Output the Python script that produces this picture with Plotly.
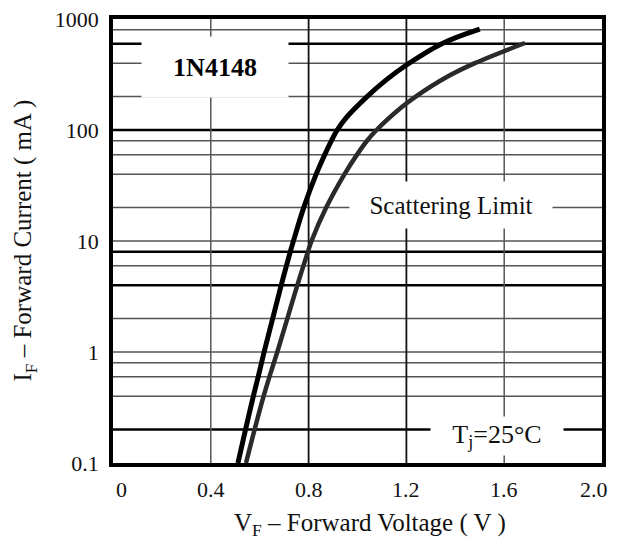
import plotly.graph_objects as go

# Forward characteristic curves (VF in volts, IF in mA)
v_lower = [0.511, 0.542, 0.574, 0.594, 0.618, 0.653, 0.688, 0.725, 0.738, 0.780, 0.831, 0.866, 0.893, 0.917, 0.955, 1.039, 1.115, 1.200, 1.345, 1.500]
i_lower = [0.1, 0.2, 0.4, 0.6, 1, 2, 4, 8, 10, 20, 40, 60, 80, 100, 130, 200, 280, 385, 600, 810]

v_upper = [0.544, 0.579, 0.616, 0.640, 0.672, 0.713, 0.754, 0.797, 0.812, 0.872, 0.947, 0.998, 1.039, 1.078, 1.180, 1.238, 1.365, 1.480, 1.685]
i_upper = [0.1, 0.2, 0.4, 0.6, 1, 2, 4, 8, 10, 20, 40, 60, 80, 100, 160, 200, 300, 400, 608]

# Axis ticks
x_ticks = [0, 0.4, 0.8, 1.2, 1.6, 2.0]
x_tick_text = ["0", "0.4", "0.8", "1.2", "1.6", "2.0"]
y_ticks = [0.1, 1, 10, 100, 1000]
y_tick_text = ["0.1", "1", "10", "100", "1000"]

# Grid lines
x_grid = [0.4, 0.8, 1.2, 1.6]
x_grid_strong = [0.8, 1.2]
y_grid = [0.2, 0.4, 0.6, 0.8, 1, 2, 4, 6, 8, 10, 20, 40, 60, 80, 100, 200, 400, 600, 800]
y_grid_strong = [0.2, 4, 8, 100, 600]

FONT = "Liberation Serif"

fig = go.Figure()

fig.add_trace(go.Scatter(x=v_upper, y=i_upper, mode="lines",
                         line=dict(color="#2a2a2a", width=4.5, shape="spline", smoothing=1.0),
                         showlegend=False, hoverinfo="skip"))
fig.add_trace(go.Scatter(x=v_lower, y=i_lower, mode="lines",
                         line=dict(color="#000000", width=5, shape="spline", smoothing=1.0),
                         showlegend=False, hoverinfo="skip"))

shapes = []
for v in y_grid:
    strong = v in y_grid_strong
    shapes.append(dict(type="line", xref="paper", x0=0, x1=1, yref="y", y0=v, y1=v,
                       line=dict(color="#000000" if strong else "#555555", width=2.5 if strong else 1.5),
                       layer="below"))
for v in x_grid:
    strong = v in x_grid_strong
    shapes.append(dict(type="line", yref="paper", y0=0, y1=1, xref="x", x0=v, x1=v,
                       line=dict(color="#111111" if strong else "#555555", width=1.8 if strong else 1.5),
                       layer="below"))

annotations = [
    dict(text="<b>1N4148</b>", xref="paper", yref="paper", x=0.2086, y=0.892,
         xanchor="center", yanchor="middle",
         showarrow=False, bgcolor="white", width=144, height=58,
         font=dict(family=FONT, size=26, color="black")),
    dict(text="Scattering Limit", xref="paper", yref="paper", x=0.692, y=0.582,
         xanchor="center", yanchor="middle",
         showarrow=False, bgcolor="white", width=200, height=44,
         font=dict(family=FONT, size=25, color="#111111")),
    dict(text="T<sub>j</sub>=25°C", xref="paper", yref="paper", x=0.786, y=0.061,
         xanchor="center", yanchor="middle",
         showarrow=False, bgcolor="white", width=130, height=36,
         font=dict(family=FONT, size=26, color="#111111")),
    dict(text="V<sub>F</sub> – Forward Voltage ( V )", xref="paper", yref="paper",
         x=0.5256, y=-0.1396, xanchor="center", yanchor="middle", showarrow=False,
         font=dict(family=FONT, size=25, color="#111111")),
    dict(text="I<sub>F</sub> – Forward Current ( mA )", xref="paper", yref="paper",
         x=-0.181, y=0.502, xanchor="center", yanchor="middle", textangle=-90, showarrow=False,
         font=dict(family=FONT, size=25, color="#111111")),
]

# X tick labels placed at the axis' data positions (edge labels nudged inward as in the original)
for k, (xv, lbl) in enumerate(zip(x_ticks, x_tick_text)):
    last = k == len(x_ticks) - 1
    annotations.append(dict(
        text=lbl, xref="x", yref="paper", x=xv, y=-0.0608,
        xanchor="right" if last else "center", yanchor="middle",
        xshift=8, showarrow=False,
        font=dict(family=FONT, size=22, color="#111111")) if (k == 0 or last) else dict(
        text=lbl, xref="x", yref="paper", x=xv, y=-0.0608,
        xanchor="center", yanchor="middle", showarrow=False,
        font=dict(family=FONT, size=22, color="#111111")))

# The page body adds an 8 px offset on every side; size chosen so the page fits 619x549 exactly
fig.update_layout(
    width=603, height=533,
    margin=dict(l=105, r=9, t=11, b=78),
    paper_bgcolor="white", plot_bgcolor="white",
    shapes=shapes, annotations=annotations,
    font=dict(family=FONT, size=22, color="#111111"),
)
fig.update_xaxes(range=[0, 2], tickvals=x_ticks, showticklabels=False, showgrid=False, zeroline=False,
                 showline=True, mirror=True, linewidth=3.5, linecolor="black", ticks="",
                 automargin=False)
fig.update_yaxes(type="log", range=[-1, 3], tickvals=y_ticks, ticktext=y_tick_text, showgrid=False,
                 zeroline=False, showline=True, mirror=True, linewidth=3.5, linecolor="black", ticks="",
                 ticklabelstandoff=6, automargin=False, ticklabeloverflow="allow")

fig.write_html("out.html")
